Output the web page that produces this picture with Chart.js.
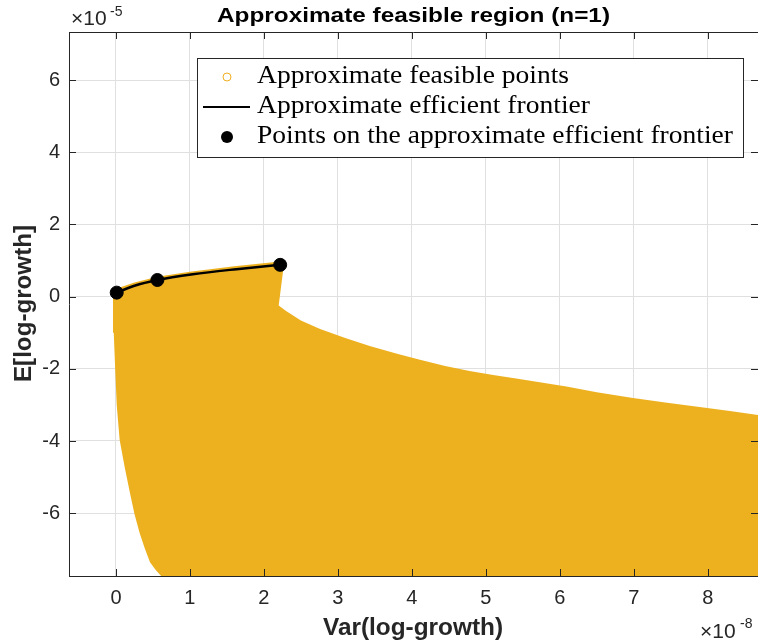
<!DOCTYPE html>
<html>
<head>
<meta charset="utf-8">
<script src="https://cdn.jsdelivr.net/npm/chart.js@4/dist/chart.umd.min.js"></script>
<style>
  body { margin: 0; background: #fff; }
  #wrap { width: 758px; height: 644px; }
</style>
</head>
<body>
<div id="wrap"><canvas id="feasibleChart" width="758" height="644"></canvas></div>
<script>
// values are in units of 1e-8 (variance) and 1e-5 (expectation)
var xTicks = [0, 1, 2, 3, 4, 5, 6, 7, 8];
var yTicks = [-6, -4, -2, 0, 2, 4, 6];

// outline of the cloud of feasible points (clockwise from top-left)
var regionX = [-0.03, 0.25, 0.56, 1.0, 1.6, 2.22, 2.27, 2.2, 2.3, 2.5, 2.76, 3.1, 3.43, 3.8, 4.11, 4.45, 4.78, 5.1, 5.41, 5.75, 6.09, 6.5, 6.99, 7.45, 7.89, 8.3, 8.68, 9.0,
               9.0, 0.64, 0.62, 0.54, 0.46, 0.39, 0.32, 0.25, 0.19, 0.12, 0.05, 0.01, -0.01, -0.03, -0.04];
var regionY = [0.2, 0.39, 0.55, 0.69, 0.84, 0.97, 0.88, -0.25, -0.4, -0.66, -0.9, -1.15, -1.37, -1.58, -1.75, -1.92, -2.06, -2.17, -2.27, -2.38, -2.49, -2.65, -2.81, -2.94, -3.06, -3.17, -3.28, -3.36,
               -8.2, -8.2, -7.76, -7.58, -7.36, -6.98, -6.55, -6.02, -5.45, -4.75, -3.97, -3.0, -2.03, -1.0, 0.09];

// approximate efficient frontier
var frontierX = [0.01, 0.25, 0.56, 1.04, 1.63, 2.22];
var frontierY = [0.11, 0.30, 0.46, 0.62, 0.76, 0.88];

// points on the frontier
var dotsX = [0.01, 0.56, 2.22];
var dotsY = [0.11, 0.46, 0.88];

var legendLabels = ['Approximate feasible points', 'Approximate efficient frontier', 'Points on the approximate efficient frontier'];

function pairs(xs, ys) {
    var out = [];
    for (var i = 0; i < xs.length; i++) out.push({ x: xs[i], y: ys[i] });
    return out;
}

// draw text stretched horizontally to a given width
function fitText(ctx, txt, x, y, width) {
    var w = ctx.measureText(txt).width;
    ctx.save();
    ctx.translate(x, y);
    ctx.scale(width / w, 1);
    ctx.fillText(txt, 0, 0);
    ctx.restore();
}

var yellow = 'rgb(237,177,32)';
var axisColor = '#262626';

var matlabDecor = {
    id: 'matlabDecor',
    afterDraw: function(chart) {
        var ctx = chart.ctx;
        var a = chart.chartArea;
        var xs = chart.scales.x, ys = chart.scales.y;
        ctx.save();

        // box + inward ticks
        ctx.strokeStyle = axisColor;
        ctx.lineWidth = 1;
        ctx.beginPath();
        ctx.moveTo(a.left, a.top + 0.5); ctx.lineTo(a.right, a.top + 0.5);
        xs.ticks.forEach(function(t) {
            var px = Math.round(xs.getPixelForValue(t.value)) + 0.5;
            ctx.moveTo(px, a.bottom); ctx.lineTo(px, a.bottom - 7);
            ctx.moveTo(px, a.top); ctx.lineTo(px, a.top + 7);
        });
        ys.ticks.forEach(function(t) {
            var py = Math.round(ys.getPixelForValue(t.value)) + 0.5;
            ctx.moveTo(a.left, py); ctx.lineTo(a.left + 7, py);
            ctx.moveTo(a.right, py); ctx.lineTo(a.right - 7, py);
        });
        ctx.stroke();

        // title
        ctx.fillStyle = '#000';
        ctx.textAlign = 'left';
        ctx.textBaseline = 'alphabetic';
        ctx.font = 'bold 21px "Liberation Sans"';
        fitText(ctx, 'Approximate feasible region (n=1)', 217, 22, 393);

        // axis labels
        ctx.fillStyle = axisColor;
        ctx.font = 'bold 23px "Liberation Sans"';
        fitText(ctx, 'Var(log-growth)', 323, 635, 180);
        ctx.save();
        ctx.translate(31, 382);
        ctx.rotate(-Math.PI / 2);
        fitText(ctx, 'E[log-growth]', 0, 0, 157);
        ctx.restore();

        // exponent labels
        ctx.font = '21px "Liberation Sans"';
        ctx.fillText('\u00d710', 71, 25);
        ctx.fillText('\u00d710', 700, 638);
        ctx.font = '14px "Liberation Sans"';
        ctx.fillText('-5', 110, 16);
        ctx.fillText('-8', 740, 628);

        // legend
        var lx = 197, ly = 58, lw = 546, lh = 99;
        ctx.fillStyle = '#fff';
        ctx.fillRect(lx, ly, lw, lh);
        ctx.strokeStyle = axisColor;
        ctx.strokeRect(lx + 0.5, ly + 0.5, lw, lh);
        var rows = [77, 107, 137];
        ctx.strokeStyle = yellow;
        ctx.lineWidth = 1;
        ctx.beginPath(); ctx.arc(227, rows[0], 4, 0, Math.PI * 2); ctx.stroke();
        ctx.strokeStyle = '#000';
        ctx.lineWidth = 2;
        ctx.beginPath(); ctx.moveTo(203, rows[1]); ctx.lineTo(250, rows[1]); ctx.stroke();
        ctx.fillStyle = '#000';
        ctx.beginPath(); ctx.arc(227, rows[2], 6, 0, Math.PI * 2); ctx.fill();
        ctx.font = '25px "Liberation Serif"';
        var k = 476 / ctx.measureText(legendLabels[2]).width;
        legendLabels.forEach(function(txt, i) {
            fitText(ctx, txt, 257, rows[i] + 6, ctx.measureText(txt).width * k);
        });
        ctx.restore();
    }
};

var ctx = document.getElementById('feasibleChart').getContext('2d');
var feasibleChart = new Chart(ctx, {
    type: 'line',
    data: {
        datasets: [{
            label: legendLabels[0],
            data: pairs(regionX, regionY),
            borderWidth: 0,
            backgroundColor: yellow,
            borderColor: yellow,
            pointRadius: 0,
            fill: 'shape',
            order: 3
        }, {
            label: legendLabels[1],
            data: pairs(frontierX, frontierY),
            borderColor: '#000',
            borderWidth: 2.5,
            pointRadius: 0,
            cubicInterpolationMode: 'monotone',
            fill: false,
            order: 2
        }, {
            label: legendLabels[2],
            data: pairs(dotsX, dotsY),
            showLine: false,
            pointRadius: 6.5,
            pointBackgroundColor: '#000',
            pointBorderColor: '#000',
            order: 1
        }]
    },
    options: {
        responsive: false,
        animation: false,
        layout: { autoPadding: false, padding: { top: 32, right: 0, left: 0, bottom: 0 } },
        plugins: {
            legend: { display: false },
            tooltip: { enabled: false },
            title: { display: false }
        },
        scales: {
            x: {
                type: 'linear',
                min: -0.635,
                max: 8.68,
                afterFit: function(s) { s.height = 68; s.paddingLeft = 0; s.paddingRight = 0; },
                afterBuildTicks: function(s) { s.ticks = xTicks.map(function(v) { return { value: v }; }); },
                ticks: {
                    padding: 10,
                    color: axisColor,
                    font: { family: 'Liberation Sans', size: 20 },
                    maxRotation: 0,
                    callback: function(v) { return String(v); }
                },
                grid: { color: '#e0e0e0', drawTicks: false },
                border: { color: axisColor, width: 1 }
            },
            y: {
                type: 'linear',
                min: -7.74,
                max: 7.33,
                afterFit: function(s) { s.width = 69; s.paddingTop = 0; s.paddingBottom = 0; },
                afterBuildTicks: function(s) { s.ticks = yTicks.map(function(v) { return { value: v }; }); },
                ticks: {
                    padding: 9,
                    color: axisColor,
                    font: { family: 'Liberation Sans', size: 20 },
                    callback: function(v) { return String(v); }
                },
                grid: { color: '#e0e0e0', drawTicks: false },
                border: { color: axisColor, width: 1 }
            }
        }
    },
    plugins: [matlabDecor]
});
</script>
</body>
</html>
